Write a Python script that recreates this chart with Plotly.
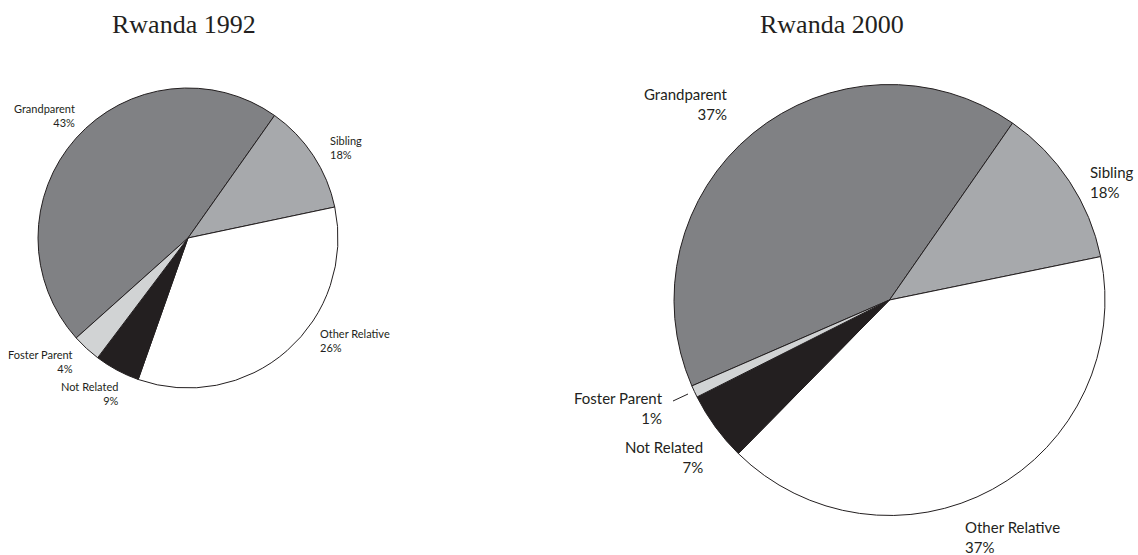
import plotly.graph_objects as go

# ---------------- data ----------------
categories = ["Grandparent", "Sibling", "Other Relative", "Not Related", "Foster Parent"]

# printed percentages (labels in the chart)
pct_1992 = [43, 18, 26, 9, 4]
pct_2000 = [37, 18, 37, 7, 1]

# slice shares as drawn in the picture
share_1992 = [46.4, 11.9, 33.7, 4.9, 3.1]
share_2000 = [41.2, 12.1, 40.6, 5.2, 0.9]

titles = ["Rwanda 1992", "Rwanda 2000"]

# ---------------- styles / layout ----------------
W, H = 1138, 555
colors = ["#808184", "#a7a9ac", "#ffffff", "#231f20", "#d1d3d4"]
LINE = "#231f20"
SANS = "Lato, 'Open Sans', sans-serif"
SERIF = "'Liberation Serif', 'DejaVu Serif', serif"

def px(x, y):
    return x / W, 1 - y / H

# pie boxes in pixels: (left, top, right, bottom)
box_1992 = (38, 88, 338, 388)
box_2000 = (674, 84, 1105, 516)

def domain(b):
    x0, y1 = px(b[0], b[1])
    x1, y0 = px(b[2], b[3])
    return dict(x=[x0, x1], y=[y0, y1])

# label anchors in pixels: (x of aligned edge, vertical centre, side)
label_pos_1992 = [(77, 116, "right"), (328, 148, "left"), (318, 340, "left"),
                  (121, 393, "right"), (75, 361, "right")]
label_pos_2000 = [(730, 104, "right"), (1088, 182, "left"), (963, 537, "left"),
                  (705, 457, "right"), (665, 408, "right")]

fig = go.Figure()

for share, pct, box, rot in [(share_1992, pct_1992, box_1992, 228.2),
                             (share_2000, pct_2000, box_2000, 246.5)]:
    fig.add_trace(go.Pie(
        labels=categories, values=share, customdata=pct,
        sort=False, direction="clockwise", rotation=rot,
        marker=dict(colors=colors, line=dict(color=LINE, width=1)),
        textinfo="none",
        hovertemplate="%{label}: %{customdata}%<extra></extra>",
        domain=domain(box), showlegend=False,
    ))

annotations = []
for pct, poss, size in [(pct_1992, label_pos_1992, 11), (pct_2000, label_pos_2000, 15)]:
    for cat, p, (x, y, side) in zip(categories, pct, poss):
        ax, ay = px(x, y)
        annotations.append(dict(
            x=ax, y=ay, xref="paper", yref="paper",
            text=f"{cat}<br>{p}%", showarrow=False,
            xanchor=side, yanchor="middle", align=side,
            font=dict(family=SANS, size=size, color="#231f20"),
        ))

for t, (cx, cy) in zip(titles, [(184, 24), (832, 24)]):
    ax, ay = px(cx, cy)
    annotations.append(dict(
        x=ax, y=ay, xref="paper", yref="paper", text=t, showarrow=False,
        xanchor="center", yanchor="middle",
        font=dict(family=SERIF, size=26, color="#231f20"),
    ))

# leader line for the Foster Parent 2000 label
lx0, ly0 = px(673, 401)
lx1, ly1 = px(688, 394)
shapes = [dict(type="line", xref="paper", yref="paper", x0=lx0, y0=ly0, x1=lx1, y1=ly1,
               line=dict(color=LINE, width=1))]

fig.update_layout(
    width=W, height=H,
    margin=dict(l=0, r=0, t=0, b=0),
    paper_bgcolor="white", plot_bgcolor="white",
    annotations=annotations, shapes=shapes,
)

fig.write_html("out.html")
